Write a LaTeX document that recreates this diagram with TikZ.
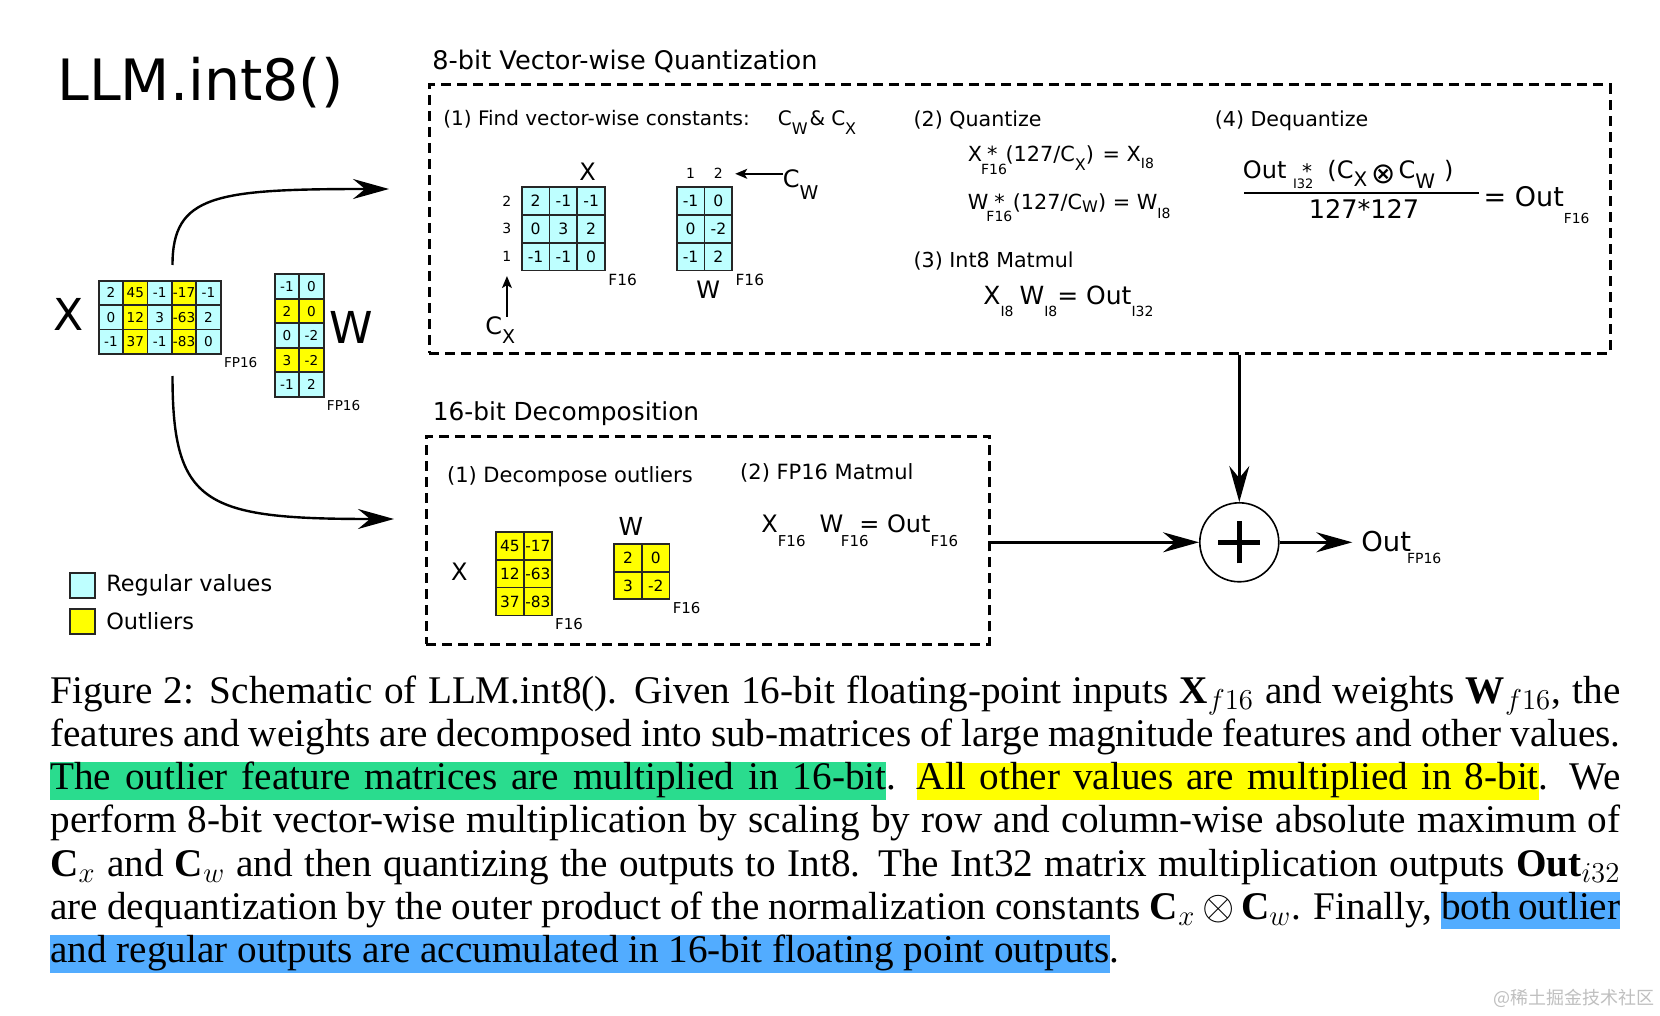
\documentclass[tikz,border=0pt]{standalone}
\usepackage{fontspec}
\setmainfont{DejaVu Sans}
\newfontfamily\capfont{Liberation Serif}
\newfontfamily\wmfont{Noto Sans CJK SC}
\usetikzlibrary{arrows.meta,positioning}
\definecolor{regc}{RGB}{190,255,255}
\definecolor{outy}{RGB}{255,255,0}
\definecolor{hlgreen}{RGB}{42,220,142}
\definecolor{hlyellow}{RGB}{255,255,0}
\definecolor{hlblue}{RGB}{82,172,255}
\newcommand{\fs}[1]{\fontsize{#1}{#1}\selectfont}
\newcommand{\lo}[3]{\raisebox{-#1}{\fs{#2}#3}}
\newcommand{\hilite}[2]{\colorbox{#1}{\rule[-5pt]{0pt}{17.5pt}#2}}
\newcommand{\hilitew}[3]{\colorbox{#1}{\makebox[#2][s]{\rule[-5pt]{0pt}{17.5pt}#3}}}
\tikzset{
  cellbox/.style={rectangle, draw=black!85, line width=0.9pt, inner sep=0pt},
  stagebox/.style={rectangle, draw=black, line width=1.5pt, dash pattern=on 5pt off 3pt, inner sep=0pt},
  arr/.style={-{Stealth[length=18pt, width=10pt, inset=6pt]}, line width=1.2pt},
  thinarr/.style={-{Stealth[length=6pt, width=5pt, inset=1.5pt]}, line width=0.7pt},
  headlab/.style={anchor=base west, inner sep=0pt, font=\fs{12.8pt}},
  steplab/.style={anchor=base west, inner sep=0pt, font=\fs{10.3pt}},
  eqlab/.style={anchor=base west, inner sep=0pt},
  idxlab/.style={inner sep=0pt, font=\fs{7pt}},
  f16lab/.style={anchor=north west, inner sep=1pt},
  matlab/.style={inner sep=0pt, font=\fs{12pt}},
  legbox/.style={rectangle, draw=black!85, line width=0.9pt, minimum size=12.5pt, inner sep=0pt},
  legtxt/.style={inner sep=0pt, font=\fs{11.2pt}},
  plusbar/.style={line width=2.6pt},
}

\begin{document}
\begin{tikzpicture}[x=0.5pt, y=-0.5pt]
\useasboundingbox (0,0) rectangle (1660,1016);
\fill[white] (0,0) rectangle (1660,1016);

% title and legend
\node[anchor=base west, inner sep=0pt, font=\fs{28.5pt}] (title) at (57,101) {LLM.int8()};
\node[legbox, fill=regc] (legreg) at (82.5,585.8) {};
\node[legbox, fill=outy] (legout) at (82.5,621.2) {};
\node[legtxt, right=5pt of legreg] (legregtxt) {Regular values};
\node[legtxt, right=5pt of legout] (legouttxt) {Outliers};

% input matrices
\foreach \row/\vals in {1/{2/regc,45/outy,-1/regc,-17/outy,-1/regc},
                        2/{0/regc,12/outy,3/regc,-63/outy,2/regc},
                        3/{-1/regc,37/outy,-1/regc,-83/outy,0/regc}}
  \foreach \val/\fil [count=\col] in \vals
    \node[cellbox, fill=\fil, minimum size=12.2pt, font=\fs{6.8pt}] (xin-\row-\col)
      at ({110.9+24.4*(\col-1)},{292.9+24.4*(\row-1)}) {\val};
\foreach \row/\vals in {1/{-1/regc,0/regc}, 2/{2/outy,0/outy}, 3/{0/regc,-2/regc},
                        4/{3/outy,-2/outy}, 5/{-1/regc,2/regc}}
  \foreach \val/\fil [count=\col] in \vals
    \node[cellbox, fill=\fil, minimum size=12.25pt, font=\fs{6.8pt}] (win-\row-\col)
      at ({286.9+24.5*(\col-1)},{286.6+24.5*(\row-1)}) {\val};
\node[matlab, font=\fs{22pt}] (xinlab) at (69,314.2) {X};
\node[matlab, font=\fs{22pt}] (winlab) at (350.8,327.5) {W};
\node[f16lab, font=\fs{6.8pt}] (xinfp) at (xin-3-5.south east) {FP16};
\node[f16lab, font=\fs{6.8pt}] (winfp) at (win-5-2.south east) {FP16};

% 8-bit part
\node[stagebox, minimum width=590.5pt, minimum height=134pt] (qbox) at (1019.5,219) {};
\node[headlab] (qhead) at (432,69.5) {8-bit Vector-wise Quantization};
\node[steplab, font=\fs{10pt}] (qstep1) at (443,126) {(1) Find vector-wise constants:\hspace{14pt}C\lo{4.5pt}{8pt}{W}\hspace{1pt}\&\hspace{3pt}C\lo{4.5pt}{8pt}{X}};
\node[steplab] (qstep2) at (913.3,126.7) {(2) Quantize};
\node[steplab] (qstep3) at (913.3,268) {(3) Int8 Matmul};
\node[steplab] (qstep4) at (1214.5,126.7) {(4) Dequantize};

\foreach \row/\vals in {1/{2,-1,-1}, 2/{0,3,2}, 3/{-1,-1,0}}
  \foreach \val [count=\col] in \vals
    \node[cellbox, fill=regc, minimum size=13.9pt, font=\fs{7.8pt}] (xq-\row-\col)
      at ({535.6+27.8*(\col-1)},{201.2+27.7*(\row-1)}) {\val};
\foreach \row/\vals in {1/{-1,0}, 2/{0,-2}, 3/{-1,2}}
  \foreach \val [count=\col] in \vals
    \node[cellbox, fill=regc, minimum size=13.9pt, font=\fs{7.8pt}] (wq-\row-\col)
      at ({690.6+27.8*(\col-1)},{201.2+27.7*(\row-1)}) {\val};
\foreach \idx [count=\row] in {2,3,1}
  \node[idxlab, left=4.5pt of xq-\row-1] (xqr-\row) {\idx};
\foreach \idx in {1,2}
  \node[idxlab, above=3.5pt of wq-1-\idx] (wqc-\idx) {\idx};
\node[matlab] (xqlab) at (587.7,171.7) {X};
\node[matlab] (wqlab) at (708.3,290) {W};
\node[f16lab, font=\fs{7.7pt}] (xqfp) at (xq-3-3.south east) {F16};
\node[f16lab, font=\fs{7.7pt}] (wqfp) at (wq-3-2.south east) {F16};
\node[eqlab, font=\fs{12pt}] (cwlab) at (782.5,187.3) {C\lo{6.3pt}{9.5pt}{W}};
\node[eqlab, font=\fs{12pt}] (cxlab) at (485,335) {C\lo{4.2pt}{9.5pt}{X}};
\draw[thinarr, shorten >=6pt] (cwlab.west |- wqc-2.center) -- (wqc-2.east);
\draw[thinarr, shorten >=7pt] (cxlab.north -| xqr-3.south) -- (xqr-3.south);

\node[eqlab, font=\fs{10.4pt}] (quantx) at (967.5,161.7)
  {X\rlap{\hspace{-0.5pt}\lo{6.2pt}{7pt}{F16}}\hspace{2.5pt}*\hspace{4pt}(127/C\lo{4.2pt}{8pt}{X})\hspace{1pt} = X\lo{3.3pt}{7pt}{I8}};
\node[eqlab, font=\fs{10.4pt}] (quantw) at (967.5,210)
  {W\rlap{\hspace{-1pt}\lo{5.85pt}{7pt}{F16}}\hspace{3pt}*\hspace{4pt}(127/C\lo{1.5pt}{8pt}{W}) = W\lo{4.2pt}{7pt}{I8}};
\node[eqlab, font=\fs{12.5pt}] (int8mm) at (983,305)
  {X\lo{5.85pt}{7pt}{I8}\hspace{3pt}W\lo{5.85pt}{7pt}{I8}= Out\lo{5.85pt}{7pt}{I32}};
\node[eqlab, font=\fs{12pt}] (dqnum) at (1242.5,178.3)
  {Out\hspace{3.3pt}\rlap{\lo{5pt}{6.5pt}{I32}}\hspace{4.5pt}{\fs{10pt}*}\hspace{7.7pt}(C\lo{4.2pt}{10pt}{X}\hspace{2pt}\raisebox{-2.5pt}{\fs{14.5pt}⊗}\hspace{1.5pt}C\lo{5pt}{10pt}{W}\hspace{4.5pt})};
\draw[line width=1pt] (1244,192.8) -- (1479,192.8);
\node[anchor=base, inner sep=0pt, font=\fs{12.8pt}] (dqden) at (1364,218.3) {127*127};
\node[eqlab, font=\fs{13.5pt}] (dqres) at (1483.3,206.7) {= Out\lo{8.3pt}{6.9pt}{F16}};

% 16-bit part
\node[stagebox, minimum width=281.7pt, minimum height=104pt] (dbox) at (707.7,540) {};
\node[headlab, font=\fs{12.4pt}] (dhead) at (432.5,420.5) {16-bit Decomposition};
\node[steplab, font=\fs{10.5pt}] (dstep1) at (446.7,482) {(1) Decompose outliers};
\node[steplab, font=\fs{10.5pt}] (dstep2) at (739.8,479.5) {(2) FP16 Matmul};
\foreach \row/\vals in {1/{45,-17}, 2/{12,-63}, 3/{37,-83}}
  \foreach \val [count=\col] in \vals
    \node[cellbox, fill=outy, minimum size=14pt, font=\fs{7.7pt}] (xo-\row-\col)
      at ({509.8+28.1*(\col-1)},{545.9+27.8*(\row-1)}) {\val};
\foreach \row/\vals in {1/{2,0}, 2/{3,-2}}
  \foreach \val [count=\col] in \vals
    \node[cellbox, fill=outy, minimum size=13.8pt, font=\fs{7.7pt}] (wo-\row-\col)
      at ({628.1+27.6*(\col-1)},{557.8+27.6*(\row-1)}) {\val};
\node[matlab] (xolab) at (459.3,571.7) {X};
\node[matlab, font=\fs{12.4pt}] (wolab) at (630.8,526) {W};
\node[f16lab, font=\fs{7.5pt}] (xofp) at (xo-3-2.south east) {F16};
\node[f16lab, font=\fs{7.5pt}] (wofp) at (wo-2-2.south east) {F16};
\node[eqlab, font=\fs{12pt}] (fp16mm) at (761,532.7)
  {X\lo{7pt}{7.5pt}{F16}\hspace{7pt}W\rlap{\hspace{-1.2pt}\lo{7pt}{7.5pt}{F16}}\hspace{8pt}= Out\lo{7pt}{7.5pt}{F16}};

% split, merge and output
\coordinate (xsplitup) at (172.5,265);
\coordinate (xsplitdn) at (172.5,376);
\coordinate (toquant) at (389,189);
\coordinate (todecomp) at (394,519);
\draw[arr] (xsplitup) .. controls (172.5,195) and (215,189) .. (toquant);
\draw[arr] (xsplitdn) .. controls (172.5,505) and (205,519) .. (todecomp);
\node[circle, draw, line width=0.8pt, minimum size=39.5pt, inner sep=0pt] (plus) at (1239.3,542.3) {};
\draw[plusbar] ([xshift=-10.5pt]plus.center) -- ([xshift=10.5pt]plus.center);
\draw[plusbar] ([yshift=-10.5pt]plus.center) -- ([yshift=10.5pt]plus.center);
\draw[arr] (qbox.south -| plus) -- (plus.north);
\draw[arr] (dbox.east |- plus) -- (plus.west);
\coordinate (outtip) at (1352.3,542.3);
\draw[arr] (plus.east) -- (outtip);
\node[eqlab, font=\fs{13.7pt}] (outlab) at (1361,551.7) {Out\hspace{-2pt}\lo{5.8pt}{7pt}{FP16}};

% caption
\node[anchor=base west, inner sep=0pt] (caption) at (50,703.3) {\parbox[t]{785pt}{%
\capfont\fontsize{19.6pt}{21.6pt}\selectfont\setlength{\fboxsep}{0pt}%
Figure 2: Schematic of LLM.int8(). Given 16-bit floating-point inputs \textbf{X}$_{f16}$ and weights \textbf{W}$_{f16}$, the\linebreak
features and weights are decomposed into sub-matrices of large magnitude features and other values.\linebreak
\hilitew{hlgreen}{418pt}{The outlier feature matrices are multiplied in 16-bit}. \hilitew{hlyellow}{311pt}{All other values are multiplied in 8-bit}. We\linebreak
perform 8-bit vector-wise multiplication by scaling by row and column-wise absolute maximum of\linebreak
\textbf{C}$_x$ and \textbf{C}$_w$ and then quantizing the outputs to Int8. The Int32 matrix multiplication outputs \textbf{Out}$_{i32}$\linebreak
are dequantization by the outer product of the normalization constants \textbf{C}$_x{}\otimes{}$\textbf{C}$_w$. Finally, \hilitew{hlblue}{89.5pt}{both outlier}\linebreak
\hilite{hlblue}{and regular outputs are accumulated in 16-bit floating point outputs}.}};
\node[anchor=east, inner sep=0pt, font=\wmfont\fs{9pt}, text=black!25] (wmark) at (1655,998) {@稀土掘金技术社区};
\end{tikzpicture}
\end{document}
